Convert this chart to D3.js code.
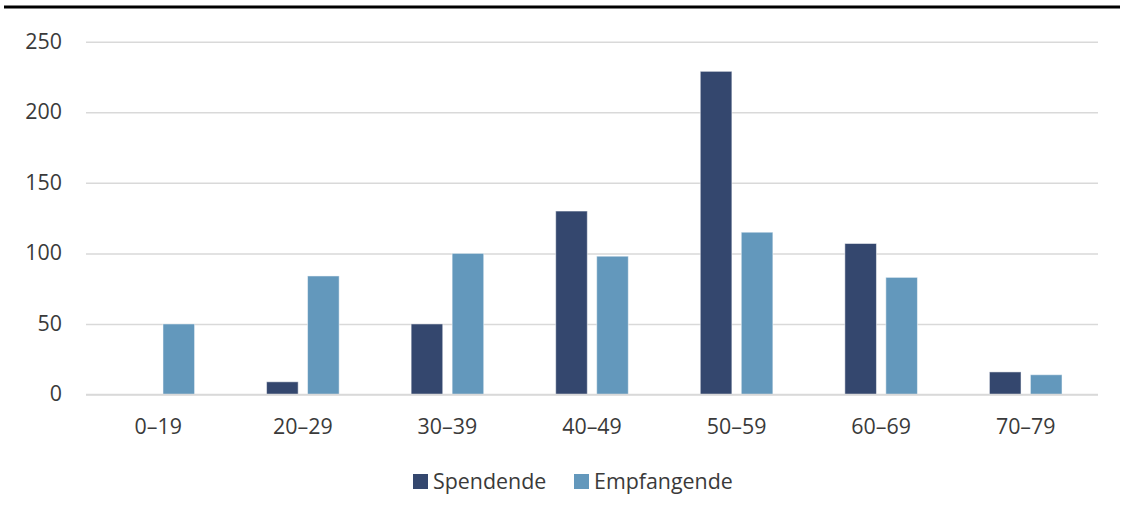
<!DOCTYPE html>
<html>
<head>
<meta charset="utf-8">
<script src="https://cdn.jsdelivr.net/npm/d3@7/dist/d3.min.js"></script>
<style>
  html, body { margin: 0; padding: 0; background: #fff; }
  svg { display: block; }
  text { font-family: "Open Sans", "Noto Sans", sans-serif; fill: #3a3a3a; }
</style>
</head>
<body>
<svg id="chart" width="1124" height="524"></svg>
<script>
// Age groups and counts per group
const ageGroups = ["0–19", "20–29", "30–39", "40–49", "50–59", "60–69", "70–79"];
const seriesNames = ["Spendende", "Empfangende"];
const spendende = [0, 9, 50, 130, 229, 107, 16];
const empfangende = [50, 84, 100, 98, 115, 83, 14];
const yTicks = [0, 50, 100, 150, 200, 250];
const seriesColors = ["#34476E", "#6398BC"];

const svg = d3.select("#chart");
const plotLeft = 86, plotRight = 1098, plotTop = 41.7, plotBottom = 394.5;
const fontSize = 21.4;

// Rule across the top of the figure
svg.append("line")
  .attr("x1", 4).attr("x2", 1120)
  .attr("y1", 7).attr("y2", 7)
  .attr("stroke", "#000").attr("stroke-width", 3);

const x0 = d3.scaleBand().domain(ageGroups).range([plotLeft, plotRight]).paddingInner(0).paddingOuter(0);
const x1 = d3.scaleBand().domain(seriesNames).range([0, x0.bandwidth()])
  .paddingInner(0.229).paddingOuter(0.878);
const y = d3.scaleLinear().domain([0, 250]).range([plotBottom, plotTop]);

// Horizontal gridlines with value labels
const yAxis = d3.axisLeft(y).tickValues(yTicks).tickSize(-(plotRight - plotLeft)).tickPadding(24);
const gy = svg.append("g").attr("transform", `translate(${plotLeft},0)`).call(yAxis);
gy.select(".domain").remove();
gy.selectAll(".tick line").attr("stroke", "#d9d9d9").attr("stroke-width", 1.5);
gy.selectAll(".tick text").attr("font-size", fontSize).attr("dy", "0.3em");

// Bars
const rows = ageGroups.map((g, i) => ({ group: g, values: [spendende[i], empfangende[i]] }));
const groups = svg.append("g").selectAll("g").data(rows).join("g")
  .attr("transform", d => `translate(${x0(d.group)},0)`);
groups.selectAll("rect")
  .data(d => d.values.map((v, k) => ({ name: seriesNames[k], value: v, k })).filter(d => d.value > 0))
  .join("rect")
  .attr("x", d => x1(d.name))
  .attr("width", x1.bandwidth())
  .attr("y", d => y(d.value))
  .attr("height", d => y(0) - y(d.value))
  .attr("fill", d => seriesColors[d.k])
  .attr("stroke", "rgba(255,255,255,0.5)")
  .attr("stroke-width", 1);

// Baseline redrawn on top of the bars
svg.append("line")
  .attr("x1", plotLeft).attr("x2", plotRight)
  .attr("y1", y(0)).attr("y2", y(0))
  .attr("stroke", "#d9d9d9").attr("stroke-width", 1.5);

// Category labels
const xAxis = d3.axisBottom(x0).tickSize(0).tickPadding(24);
const gx = svg.append("g").attr("transform", `translate(0,${plotBottom})`).call(xAxis);
gx.select(".domain").remove();
gx.selectAll(".tick text").attr("font-size", fontSize);

// Legend
const legend = svg.append("g").attr("transform", "translate(413,474)");
const legendX = [0, 161];
seriesNames.forEach((name, k) => {
  const item = legend.append("g").attr("transform", `translate(${legendX[k]},0)`);
  item.append("rect").attr("width", 15).attr("height", 15).attr("fill", seriesColors[k]);
  item.append("text").attr("x", 20).attr("y", 7.5).attr("dy", "0.35em")
    .attr("font-size", fontSize).text(name);
});
</script>
</body>
</html>
